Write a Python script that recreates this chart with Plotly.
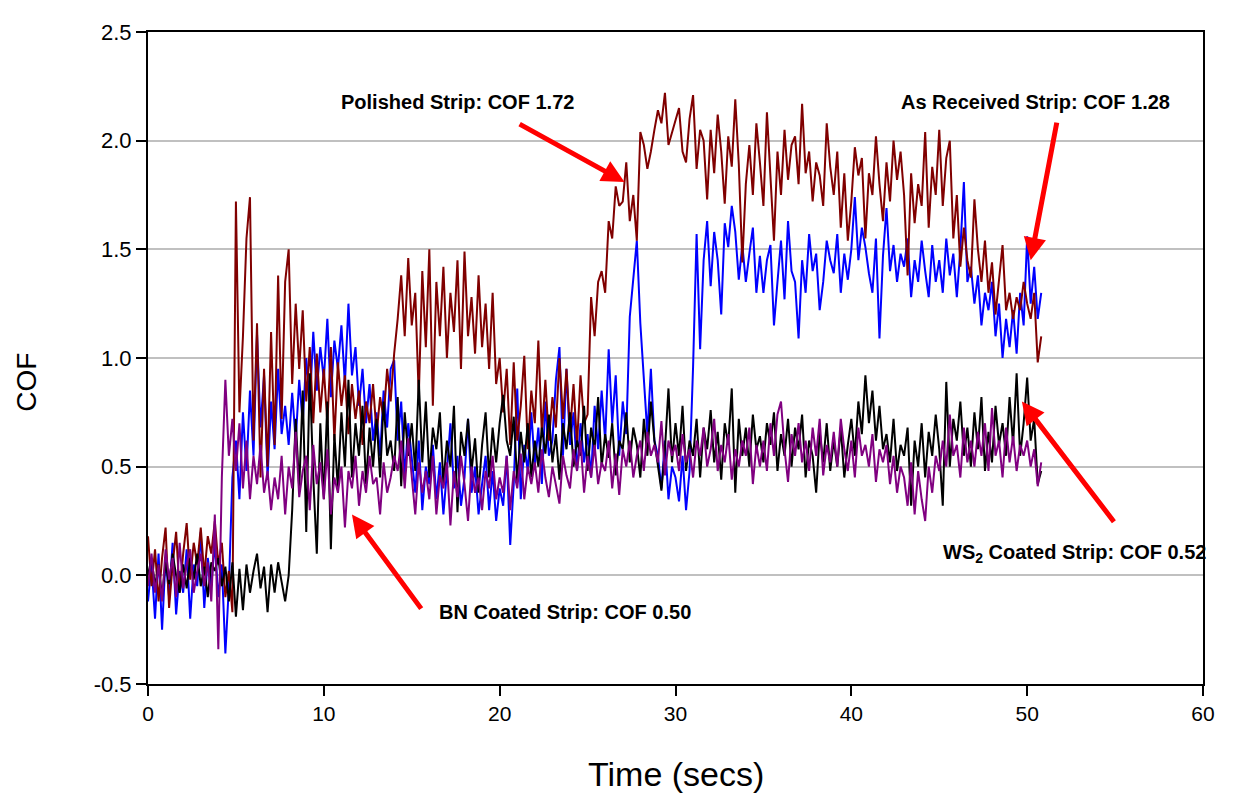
import plotly.graph_objects as go

# sampling interval of the recorded COF traces (seconds)
dt = 0.2

polished = [
    0.18, -0.05, 0.12, -0.12, 0.08,
    0.22, -0.15, 0.05, 0.20, -0.08,
    0.10, 0.24, -0.02, 0.15, 0.05,
    0.22, 0.00, 0.18, 0.10, 0.25,
    0.05, 0.15, -0.10, 0.02, -0.17,
    1.72, 0.75, 1.10, 1.55, 1.74,
    0.62, 1.16, 0.45, 0.95, 0.50,
    1.12, 0.60, 1.38, 0.72, 1.35,
    1.50, 0.88, 1.25, 0.95, 1.22,
    0.80, 1.05, 0.70, 1.02, 0.75,
    0.95, 0.70, 1.05, 0.62, 0.98,
    0.78, 0.92, 0.65, 0.88, 0.72,
    0.85, 0.60, 0.80, 0.70, 0.88,
    0.65, 0.82, 0.72, 0.95, 0.80,
    1.02, 1.18, 1.38, 1.10, 1.46,
    1.15, 1.30, 0.82, 1.40, 1.05,
    1.50, 0.78, 1.35, 1.10, 1.42,
    1.00, 1.30, 1.12, 1.45, 0.95,
    1.49, 1.10, 1.28, 1.02, 1.38,
    1.05, 1.25, 0.95, 1.30, 0.88,
    1.00, 0.75, 0.95, 0.60, 0.98,
    0.62, 0.78, 1.01, 0.58, 0.85,
    0.70, 1.08, 0.65, 0.90, 0.62,
    0.82, 0.68, 1.00, 0.72, 0.95,
    0.66, 0.88, 0.60, 0.92, 0.70,
    0.74, 1.28, 1.10, 1.35, 1.40,
    1.30, 1.63, 1.55, 1.79, 1.70,
    1.72, 1.90, 1.63, 1.75, 1.54,
    2.04, 1.98, 1.87, 1.95, 2.05,
    2.14, 2.08, 2.22, 1.98, 2.04,
    2.10, 2.15, 1.95, 1.90, 2.10,
    2.21, 1.87, 2.05, 2.00, 1.73,
    2.05, 1.85, 2.12, 1.95, 1.71,
    2.02, 1.88, 2.19, 1.89, 1.44,
    1.80, 1.98, 1.75, 2.08, 1.90,
    1.70, 2.13, 1.85, 1.54, 1.95,
    1.75, 2.05, 1.82, 1.98, 2.02,
    1.80, 2.17, 1.85, 1.95, 1.72,
    1.90, 1.84, 1.70, 2.08, 1.88,
    1.75, 1.95, 1.60, 1.85, 1.54,
    1.72, 1.97, 1.84, 1.92, 1.55,
    1.85, 1.75, 2.02, 1.80, 1.63,
    1.90, 1.72, 2.00, 1.82, 1.95,
    1.75, 1.38, 1.85, 1.62, 1.80,
    1.70, 2.04, 1.60, 1.88, 1.75,
    2.05, 1.70, 1.92, 2.00, 1.55,
    1.75, 1.42, 1.60, 1.45, 1.37,
    1.73, 1.50, 1.35, 1.54, 1.30,
    1.44, 1.20, 1.35, 1.52, 1.22,
    1.30, 1.18, 1.28, 1.22, 1.35,
    1.25, 1.18, 1.30, 0.98, 1.10,
]

as_received = [
    -0.12, 0.05, -0.20, 0.10, -0.25,
    0.08, -0.10, 0.15, -0.18, 0.02,
    -0.08, 0.12, -0.20, 0.05, -0.05,
    0.20, -0.15, 0.08, -0.05, 0.15,
    -0.10, 0.05, -0.36, -0.05, 0.45,
    0.62, 0.35, 0.75, 0.48, 0.85,
    0.55, 1.11, 0.68, 0.92, 0.45,
    0.80, 0.58, 0.95, 0.65, 0.78,
    0.60, 0.84, 0.62, 0.90, 0.70,
    1.00, 0.78, 1.12, 0.85, 1.05,
    0.90, 1.18, 0.82, 1.08, 0.95,
    1.15, 0.88, 1.25, 0.92, 1.05,
    0.78, 0.95, 0.70, 0.88, 0.62,
    0.75, 0.55, 0.85, 0.68, 0.95,
    0.99, 0.62, 0.80, 0.45, 0.70,
    0.55, 0.38, 0.62, 0.30, 0.50,
    0.42, 0.60, 0.35, 0.52, 0.28,
    0.48, 0.70, 0.40, 0.55, 0.32,
    0.45, 0.72, 0.38, 0.50, 0.28,
    0.42, 0.55, 0.30, 0.48, 0.25,
    0.40, 0.32, 0.55, 0.14, 0.42,
    0.86, 0.35, 0.60, 0.48, 0.75,
    0.50, 0.68, 0.42, 0.80, 0.55,
    0.62, 0.90, 1.05, 0.55, 0.95,
    0.60, 0.75, 0.48, 0.70, 0.52,
    0.65, 0.45, 0.78, 0.58, 0.85,
    0.62, 1.04, 0.70, 0.92, 0.55,
    0.80, 0.65, 1.19, 1.35, 1.54,
    1.16, 0.90, 0.65, 0.95, 0.62,
    0.55, 0.40, 0.62, 0.35, 0.50,
    0.45, 0.34, 0.55, 0.30, 0.48,
    0.96, 1.57, 1.04, 1.45, 1.63,
    1.33, 1.58, 1.45, 1.20, 1.62,
    1.51, 1.70, 1.58, 1.36, 1.52,
    1.35, 1.48, 1.60, 1.30, 1.47,
    1.30, 1.45, 1.52, 1.15, 1.35,
    1.54, 1.27, 1.63, 1.40, 1.35,
    1.09, 1.45, 1.30, 1.57, 1.40,
    1.48, 1.22, 1.35, 1.54, 1.45,
    1.39, 1.57, 1.30, 1.48, 1.36,
    1.50, 1.74, 1.45, 1.60, 1.51,
    1.39, 1.30, 1.55, 1.09, 1.47,
    1.69, 1.40, 1.52, 1.35, 1.48,
    1.42, 1.55, 1.28, 1.45, 1.35,
    1.54, 1.40, 1.28, 1.52, 1.35,
    1.45, 1.30, 1.55, 1.38, 1.48,
    1.28, 1.50, 1.81, 1.35, 1.42,
    1.25, 1.38, 1.15, 1.30, 1.22,
    1.35, 1.10, 1.25, 1.00, 1.18,
    1.05, 1.22, 1.02, 1.30, 1.15,
    1.56, 1.25, 1.42, 1.18, 1.30,
]

ws2_coated = [
    0.00, 0.08, -0.05, 0.05, -0.10,
    0.06, -0.04, 0.10, 0.00, -0.08,
    0.05, -0.06, 0.08, -0.02, 0.10,
    -0.05, 0.04, -0.10, 0.06, 0.02,
    0.08, -0.05, 0.04, -0.12, 0.06,
    -0.19, 0.03, -0.16, 0.05, -0.08,
    0.02, 0.10, -0.06, 0.04, -0.17,
    0.05, -0.08, 0.06, -0.03, -0.12,
    0.00, 0.30, 0.72, 0.40, 0.85,
    0.20, 0.93, 0.45, 0.10, 0.70,
    0.35, 0.80, 0.12, 0.65, 0.40,
    0.75, 0.50, 0.90, 0.45, 0.70,
    0.55, 0.78, 0.42, 0.68, 0.50,
    0.72, 0.45, 0.80, 0.55, 0.62,
    0.48, 0.82, 0.41, 0.75, 0.55,
    0.70, 0.48, 0.90, 0.52, 0.80,
    0.45, 0.68, 0.58, 0.75, 0.42,
    0.62, 0.50, 0.78, 0.29, 0.66,
    0.55, 0.72, 0.48, 0.63, 0.38,
    0.60, 0.75, 0.45, 0.68, 0.52,
    0.70, 0.83, 0.62, 0.55, 0.73,
    0.43, 0.66, 0.52, 0.70, 0.45,
    0.62, 0.50, 0.68, 0.56, 0.74,
    0.52, 0.65, 0.44, 0.70, 0.58,
    0.75, 0.50, 0.62, 0.55, 0.78,
    0.48, 0.68, 0.58, 0.82, 0.50,
    0.65, 0.54, 0.70, 0.46, 0.62,
    0.58, 0.75, 0.52, 0.68, 0.60,
    0.45, 0.72, 0.55, 0.80, 0.62,
    0.50, 0.39, 0.58, 0.86, 0.52,
    0.70, 0.55, 0.78, 0.48, 0.62,
    0.55, 0.72, 0.45, 0.68, 0.58,
    0.76, 0.52, 0.66, 0.44, 0.70,
    0.60, 0.86, 0.38, 0.72, 0.55,
    0.68, 0.50, 0.74, 0.58, 0.64,
    0.52, 0.70, 0.60, 0.75, 0.48,
    0.65, 0.55, 0.72, 0.50, 0.68,
    0.58, 0.74, 0.45, 0.62, 0.55,
    0.38, 0.66, 0.52, 0.70, 0.48,
    0.62, 0.50, 0.68, 0.45, 0.60,
    0.72, 0.55, 0.80, 0.65, 0.92,
    0.70, 0.85, 0.62, 0.78, 0.58,
    0.65, 0.52, 0.72, 0.48, 0.60,
    0.55, 0.68, 0.32, 0.62, 0.50,
    0.70, 0.45, 0.66, 0.55, 0.74,
    0.58, 0.32, 0.89, 0.50, 0.72,
    0.62, 0.80, 0.55, 0.68, 0.50,
    0.75, 0.58, 0.82, 0.48, 0.66,
    0.52, 0.78, 0.60, 0.70, 0.55,
    0.82, 0.60, 0.93, 0.55, 0.70,
    0.91, 0.62, 0.72, 0.42, 0.48,
]

bn_coated = [
    -0.05, 0.10, -0.08, 0.05, -0.12,
    0.12, -0.02, 0.08, -0.10, 0.15,
    -0.06, 0.05, 0.12, -0.08, 0.02,
    0.10, -0.05, 0.06, -0.12, 0.28,
    -0.34, 0.45, 0.90, 0.55, 0.72,
    0.48, 0.70, 0.40, 0.62, 0.35,
    0.55, 0.42, 0.60, 0.38, 0.48,
    0.30, 0.45, 0.35, 0.55, 0.28,
    0.50, 0.40, 0.66, 0.36, 0.48,
    0.55, 0.30, 0.60, 0.42, 0.52,
    0.35, 0.58, 0.28, 0.45, 0.38,
    0.50, 0.22, 0.48, 0.40, 0.55,
    0.32, 0.48, 0.38, 0.55, 0.42,
    0.45, 0.28, 0.52, 0.38, 0.45,
    0.55, 0.48, 0.62, 0.40, 0.63,
    0.45, 0.28, 0.52, 0.38, 0.48,
    0.35, 0.55, 0.28, 0.46, 0.40,
    0.52, 0.23, 0.48, 0.36, 0.55,
    0.42, 0.25, 0.50, 0.38, 0.45,
    0.30, 0.48, 0.40, 0.55, 0.35,
    0.45, 0.38, 0.55, 0.30, 0.48,
    0.40, 0.56, 0.35, 0.50, 0.42,
    0.52, 0.38, 0.58, 0.45, 0.36,
    0.50, 0.42, 0.33, 0.55, 0.46,
    0.40, 0.58, 0.48, 0.62, 0.38,
    0.55, 0.45, 0.60, 0.42, 0.52,
    0.48, 0.62, 0.40, 0.56, 0.37,
    0.58, 0.50, 0.62, 0.45, 0.55,
    0.62, 0.48, 0.66, 0.55, 0.60,
    0.52, 0.71, 0.46, 0.62, 0.55,
    0.60, 0.48, 0.65, 0.52, 0.58,
    0.45, 0.62, 0.55, 0.68, 0.50,
    0.58, 0.72, 0.48, 0.60, 0.52,
    0.65, 0.44, 0.58, 0.50, 0.62,
    0.55, 0.68, 0.42, 0.60, 0.50,
    0.62, 0.48, 0.70, 0.55, 0.74,
    0.80, 0.58, 0.43, 0.65, 0.55,
    0.70, 0.52, 0.62, 0.48, 0.68,
    0.55, 0.72, 0.46, 0.60, 0.52,
    0.66, 0.50, 0.72, 0.58, 0.48,
    0.62, 0.45, 0.68, 0.55, 0.60,
    0.50, 0.65, 0.43, 0.58, 0.52,
    0.60, 0.42, 0.55, 0.38, 0.50,
    0.45, 0.32, 0.52, 0.28, 0.48,
    0.35, 0.25, 0.50, 0.38, 0.55,
    0.48, 0.62, 0.50, 0.74, 0.55,
    0.60, 0.45, 0.68, 0.52, 0.62,
    0.50, 0.66, 0.55, 0.70, 0.48,
    0.77, 0.55, 0.62, 0.45, 0.68,
    0.52, 0.64, 0.48, 0.60, 0.55,
    0.62, 0.50, 0.58, 0.41, 0.52,
]

series = [
    ("As Received Strip", as_received, "#0000ff"),
    ("Polished Strip", polished, "#800000"),
    ("WS2 Coated Strip", ws2_coated, "#000000"),
    ("BN Coated Strip", bn_coated, "#800080"),
]

x_ticks = [0, 10, 20, 30, 40, 50, 60]
y_ticks = [-0.5, 0.0, 0.5, 1.0, 1.5, 2.0, 2.5]

# annotation labels: (text, x, y)
labels = [
    ("Polished Strip: COF 1.72", 17.6, 2.18),
    ("As Received Strip: COF 1.28", 50.5, 2.18),
    ("WS<sub>2</sub> Coated Strip: COF 0.52", 52.7, 0.10),
    ("BN Coated Strip: COF 0.50", 23.7, -0.17),
]
# arrows: (head_x, head_y, tail_x, tail_y)
arrows = [
    (27.1, 1.81, 21.05, 2.08),
    (50.2, 1.45, 51.7, 2.09),
    (49.7, 0.80, 55.0, 0.24),
    (11.6, 0.28, 15.6, -0.16),
]

fig = go.Figure()
for name, vals, color in series:
    fig.add_trace(go.Scatter(
        x=[i * dt for i in range(len(vals))], y=vals, mode="lines",
        name=name, line=dict(color=color, width=2), showlegend=False,
    ))

base = "Liberation Sans, Arial, sans-serif"
ann_font = dict(family=base, size=20, color="black")
for text, x, y in labels:
    fig.add_annotation(x=x, y=y, text="<b>" + text + "</b>", showarrow=False,
                       font=ann_font, xanchor="center", yanchor="middle")
for hx, hy, tx, ty in arrows:
    fig.add_annotation(x=hx, y=hy, ax=tx, ay=ty, axref="x", ayref="y",
                       xref="x", yref="y", text="", showarrow=True,
                       arrowhead=2, arrowsize=0.9, arrowwidth=5, arrowcolor="#ff0000")

# axis titles placed as paper-anchored annotations
fig.add_annotation(xref="paper", yref="paper", x=0.5, y=-0.1386,
                   text="Time (secs)", showarrow=False, xanchor="center", yanchor="middle",
                   font=dict(family=base, size=34, color="black"))
fig.add_annotation(xref="paper", yref="paper", x=0, y=0.462, xshift=-121,
                   text="COF", showarrow=False, textangle=-90, xanchor="center", yanchor="middle",
                   font=dict(family=base, size=28, color="black"))

fig.update_layout(
    width=1234, height=800,
    margin=dict(l=140, r=39, t=12, b=124),
    paper_bgcolor="white", plot_bgcolor="white",
    xaxis=dict(
        range=[0, 60], tickvals=x_ticks, ticktext=[str(v) for v in x_ticks],
        ticks="outside", ticklen=10, tickwidth=1.5, tickcolor="black",
        showline=True, linecolor="black", linewidth=2, mirror=True,
        showgrid=False, zeroline=False,
        tickfont=dict(family=base, size=21, color="black"),
    ),
    yaxis=dict(
        range=[-0.5, 2.5], tickvals=y_ticks, ticktext=[f"{v:.1f}" for v in y_ticks],
        ticks="outside", ticklen=10, tickwidth=1.5, tickcolor="black",
        showline=True, linecolor="black", linewidth=2, mirror=True,
        showgrid=True, gridcolor="#c0c0c0", gridwidth=2, zeroline=False,
        tickfont=dict(family=base, size=22, color="black"),
    ),
)

fig.write_html("out.html")
